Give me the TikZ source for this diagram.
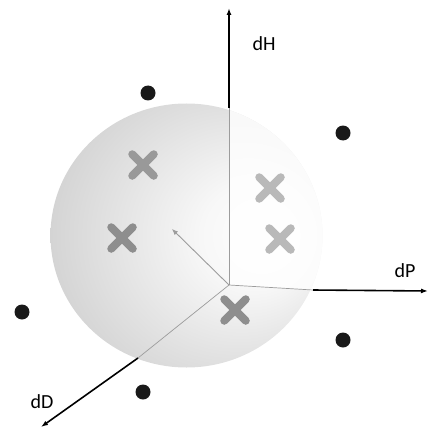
\documentclass[tikz,border=0pt]{standalone}
\usepackage{fontspec}
\setmainfont{Carlito}
\usetikzlibrary{arrows.meta,shapes.misc}
\definecolor{BallEdge}{HTML}{B0B0B0}
\definecolor{BallMid}{HTML}{D6D6D6}
\definecolor{CrossDark}{HTML}{8E8E8E}
\definecolor{CrossLight}{HTML}{B9B9B9}
\definecolor{AxisGray}{HTML}{9C9C9C}
\pgfdeclareradialshading{ballshade}{\pgfpoint{16bp}{0bp}}{color(0bp)=(white); color(10bp)=(white!97!black); color(30bp)=(BallMid); color(50bp)=(BallEdge)}

\begin{document}
\begin{tikzpicture}[x=1pt, y=-1pt, font=\fontsize{20}{22}\selectfont, >={Latex[length=7pt,width=5pt]}]
\tikzset{dot/.style={circle, fill=black!90, inner sep=0pt, minimum size=15pt}, crossdark/.style={cross out, draw=CrossDark, line width=8pt, line cap=round, inner sep=0pt, minimum size=13.5pt}, crosslight/.style={crossdark, draw=CrossLight}, axisthin/.style={draw=AxisGray, line width=0.7pt}, axisthick/.style={->, draw=black, line width=1.6pt}}
\useasboundingbox (0,0) rectangle (430,433);
\shade[shading=ballshade] (186.5,235.5) ellipse [x radius=136, y radius=132];
\begin{scope}
\clip (186.5,235.5) ellipse [x radius=136, y radius=132];
\fill[white, opacity=0.8] (229,285) -- (229,90) -- (330,90) -- (330,291) -- cycle;
\end{scope}
\coordinate (O) at (229,285);
\coordinate (H) at (229,8);
\coordinate (P) at (428,291);
\coordinate (D) at (41,427);
\coordinate (Hs) at (229,108);
\coordinate (Ps) at (313,290);
\coordinate (Ds) at (138,358);
\coordinate (G) at (172,229);
\draw[axisthin] (O)--(Hs); \draw[axisthin] (O)--(Ps); \draw[axisthin] (O)--(Ds);
\draw[->, AxisGray, line width=0.9pt, >={Latex[length=6pt,width=5pt]}] (O)--(G);
\draw[axisthick] (Hs)--(H); \draw[axisthick] (Ps)--(P); \draw[axisthick] (Ds)--(D);
\node (lH) at (264,44) {dH};
\node (lP) at (405,271) {dP};
\node (lD) at (42,402) {dD};
\node[dot] (p1) at (148,93) {};
\node[dot] (p2) at (343,133) {};
\node[dot] (p3) at (22,312) {};
\node[dot] (p4) at (343,340) {};
\node[dot] (p5) at (143,392) {};
\node[crossdark, draw=CrossDark!75!CrossLight] (x1) at (143,165) {};
\node[crossdark] (x2) at (122,238) {};
\node[crosslight] (x3) at (270,188) {};
\node[crosslight] (x4) at (280,239) {};
\node[crossdark] (x5) at (235,310) {};
\end{tikzpicture}
\end{document}
